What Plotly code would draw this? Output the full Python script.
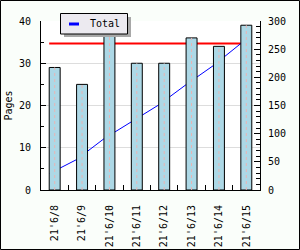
import numpy as np
import plotly.graph_objects as go

# ---- data ----
labels = ["21'6/8", "21'6/9", "21'6/10", "21'6/11", "21'6/12", "21'6/13", "21'6/14", "21'6/15"]
pages = [29, 25, 37, 30, 30, 36, 34, 39]
series_name = "Total"

# derived series
total_cum = list(np.cumsum(pages))
grand_total = [int(np.sum(pages))] * len(pages)

W, H = 300, 250
ML, MR, MT, MB = 41, 40, 21, 60
PW, PH = W - ML - MR, H - MT - MB
FONT = "DejaVu Sans Mono"
bar_w = 0.4

x = np.arange(len(labels))
x_line = x - bar_w / 2


def px(xp):
    return (xp - ML) / PW


def py(yp):
    return (H - MB - yp) / PH


fig = go.Figure()

# lines (base subplot, right axis) drawn beneath bars
fig.add_trace(go.Scatter(x=x_line, y=grand_total, mode="lines",
                         line=dict(color="#FF0000", width=2), yaxis="y",
                         showlegend=False, hoverinfo="skip"))
fig.add_trace(go.Scatter(x=x_line, y=total_cum, mode="lines",
                         line=dict(color="#0000FF", width=1), yaxis="y",
                         name=series_name, showlegend=False))

# bars (overlay subplot, left axis)
fig.add_trace(go.Bar(x=x, y=pages, width=bar_w, yaxis="y2",
                     marker=dict(color="#ADD8E6", line=dict(color="black", width=1)),
                     showlegend=False))
# dotted centre line inside each bar
cx, cy = [], []
for xi, v in zip(x, pages):
    cx += [xi, xi, None]
    cy += [0, v, None]
fig.add_trace(go.Scatter(x=cx, y=cy, mode="lines", yaxis="y2",
                         line=dict(color="#E8B4B4", width=1, dash="dot"),
                         showlegend=False, hoverinfo="skip"))

fig.update_layout(
    width=W, height=H,
    margin=dict(l=ML, r=MR, t=MT, b=MB, pad=0, autoexpand=False),
    paper_bgcolor="#FAFEFA",
    plot_bgcolor="#FFFFFF",
    font=dict(family=FONT, size=10, color="black"),
    showlegend=False,
    xaxis=dict(range=[-0.5, len(labels) - 0.5], tickmode="array", tickvals=x, ticktext=labels,
               tickangle=-90, ticks="", showgrid=False, zeroline=False,
               showline=True, linecolor="black", linewidth=1, automargin=False,
               ticklabelstandoff=10,
               minor=dict(tickmode="array", tickvals=list(x[:-1] + 0.5), ticks="inside",
                          ticklen=5, tickcolor="black", showgrid=False),
               fixedrange=True),
    yaxis=dict(range=[0, 300], side="right", dtick=50, ticks="inside", ticklen=6,
               tickcolor="black", showgrid=False, zeroline=False, automargin=False,
               showline=True, linecolor="black", linewidth=1,
               ticklabelstandoff=5,
               minor=dict(dtick=10, ticks="inside", ticklen=4, tickcolor="black", showgrid=False)),
    yaxis2=dict(range=[0, 40], side="left", overlaying="y", dtick=10, ticks="inside", ticklen=5,
                tickcolor="black", showgrid=True, gridcolor="#DDDDDD", zeroline=False,
                showline=True, linecolor="black", linewidth=1, automargin=False,
                ticklabelstandoff=7,
                title=dict(text="Pages", standoff=4, font=dict(family=FONT, size=10)),
                minor=dict(dtick=5, ticks="inside", ticklen=3, tickcolor="black", showgrid=False)),
    shapes=[
        # outer frame
        dict(type="rect", xref="paper", yref="paper", x0=px(0.5), x1=px(W - 0.5),
             y0=py(H - 0.5), y1=py(0.5), line=dict(color="black", width=1), layer="above"),
        # legend shadow
        dict(type="rect", xref="paper", yref="paper", x0=px(64), x1=px(131),
             y0=py(37), y1=py(17), fillcolor="#A8A8A8", line=dict(width=0), layer="above"),
        # legend box
        dict(type="rect", xref="paper", yref="paper", x0=px(60.5), x1=px(127.5),
             y0=py(34), y1=py(13.5), fillcolor="#ECEAF0", line=dict(color="black", width=1),
             layer="above"),
        # legend key
        dict(type="line", xref="paper", yref="paper", x0=px(69), x1=px(79),
             y0=py(24), y1=py(24), line=dict(color="#0000FF", width=3), layer="above"),
    ],
    annotations=[
        dict(text=series_name, xref="paper", yref="paper", x=px(87.5), y=py(24),
             xanchor="left", yanchor="middle", showarrow=False,
             font=dict(family=FONT, size=10, color="black")),
    ],
)

fig.write_html("out.html")
